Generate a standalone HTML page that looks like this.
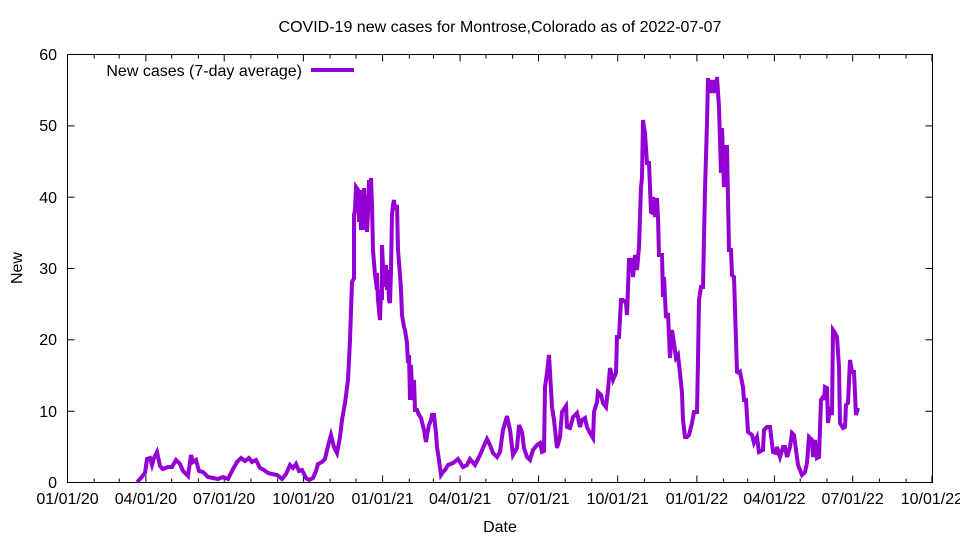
<!DOCTYPE html>
<html><head><meta charset="utf-8"><style>
html,body{margin:0;padding:0;background:#fff;}
svg{display:block;font-family:"Liberation Sans",sans-serif;}
</style></head><body>
<svg id="s" width="960" height="540" viewBox="0 0 960 540" xmlns="http://www.w3.org/2000/svg">
<rect width="960" height="540" fill="#fff"/>
<text x="500" y="32" font-size="16" text-anchor="middle">COVID-19 new cases for Montrose,Colorado as of 2022-07-07</text>
<g font-size="16" text-anchor="end">
<text x="57" y="488">0</text><text x="57" y="417">10</text><text x="57" y="345">20</text>
<text x="57" y="274">30</text><text x="57" y="203">40</text><text x="57" y="131">50</text><text x="57" y="60">60</text>
</g>
<text x="22" y="268" font-size="16" text-anchor="middle" transform="rotate(-90 22 268)">New</text>
<text x="500" y="532" font-size="16" text-anchor="middle">Date</text>
<g id="ticks" stroke="#000" stroke-width="1"></g>
<g id="xl" font-size="16" text-anchor="middle"></g>
<rect x="67.5" y="54.5" width="865" height="428" fill="none" stroke="#000" stroke-width="1"/>
<text x="302" y="76" font-size="16" text-anchor="end">New cases (7-day average)</text>
<line x1="311" y1="70" x2="354" y2="70" stroke="#9400D3" stroke-width="4"/>
<polyline fill="none" stroke="#9400D3" stroke-width="4" stroke-linejoin="miter" points="
137,482 140,479 145,473 147,459 150,458 152,465 154,458 157,452 160,466 163,469 168,467 172,467 176,460 180,464 183,471 188,476 191,455 193,462 196,460 199,471 203,472 208,477 213,478 218,479 223,477 228,479 233,469 237,462 241,458 245,461 249,458 252,462 256,460 260,468 264,470 268,473 272,474 277,475 282,479 286,474 290,465 293,468 296,464 299,471 302,470 306,478 309,480 313,478 316,471 318,464 322,462 325,459 328,446 331,435 334,447 337,453 340,437 342,420
345,403 348,380 350,340 352,282 354,278 354,215 355,210 356,187 358,190 359,222 360,190 361,230 362,200 363,228 364,188 365,230 366,195 367,232 368,212 369,180 370,200 371,178 372,205 373,250 375,275 376,282 377,290 377,273 378,300 379,310 380,320 381,290 382,300 382,245 384,287 386,265 387,290 388,270 389,300 390,303 391,270 392,215 393,205 394,200 395,210 397,205 398,250 400,275 401,290 402,315 404,327 405,330 407,343 408,363 409,355 410,400 411,365 412,390 413,400 414,380 415,410 417,410 419,415 421,418 424,430 426,442 427,435 429,425 431,420 432,415 434,415 436,433 437,447 439,460 441,475 443,472
445,470 448,465 453,463 458,459 463,467 467,465 470,459 475,465 480,455 483,448 487,439 490,445 493,453 497,457 500,452 503,430 507,416 510,430 513,455 517,448 519,425 522,432 524,448 527,457 530,460 533,450 537,445 540,443 542,452 544,451 545,387 547,373 549,355 552,407 554,420 557,448 560,437 562,412 566,406 567,427 570,428 573,417 575,415 577,413 580,427 582,420 585,418 587,427 590,433 593,438 594,412 597,402 598,392 601,395 603,403 606,407 608,390 610,368 613,380 616,373 617,337 619,337 621,300 623,300 626,303 627,315 629,260 632,260 633,277 635,255 637,270 639,247 641,187 642,178 643,120 645,133 647,163 649,163 651,212 653,213 653,197 655,217 657,198 658,217 659,255 662,255 663,297 664,277 666,318 668,313 670,358 672,330 674,343 676,358 678,355 680,373 682,393 683,420 685,437 687,437 689,435 692,423 694,412 697,412 698,360 699,300 701,287 703,287 705,190 707,123 708,78 709,93 711,80 713,93 714,80 716,93 717,77 719,107 721,173 722,128 724,187 726,147 727,147 729,250 731,250 732,275 734,277 737,372 739,373 740,372
743,387 744,400 746,400 748,432 752,435 754,443 757,437 759,452 763,450 764,430 767,427 770,427 773,452 776,453 777,447 780,457 783,447 785,447 787,457 790,447 792,433 794,435 796,450 798,465 802,475 805,472 807,463 809,437 812,440 813,457 815,440 817,458 819,457 821,400 823,397 824,400 825,387 827,388 828,423 830,407 832,415 833,330 835,333 837,337 839,367 840,423 843,428 845,427 846,405 848,403 850,360 852,372 854,372 856,415 858,408"/>
</svg>
<script>
var ns="http://www.w3.org/2000/svg",t=document.getElementById("ticks"),xl=document.getElementById("xl");
function ln(x1,y1,x2,y2){var l=document.createElementNS(ns,"line");l.setAttribute("x1",x1);l.setAttribute("y1",y1);l.setAttribute("x2",x2);l.setAttribute("y2",y2);t.appendChild(l);}
var days=[0,31,60,91,121,152,182,213,244,274,305,335,366,397,425,456,486,517,547,578,609,639,670,700,731,762,790,821,851,882,912,943,974,1004];
var labs=["01/01/20","04/01/20","07/01/20","10/01/20","01/01/21","04/01/21","07/01/21","10/01/21","01/01/22","04/01/22","07/01/22","10/01/22"];
days.forEach(function(d,i){var x=(67.5+d*0.861).toFixed(1);var L=(i%3==0)?7:4;ln(x,482.5,x,482.5-L);ln(x,54.5,x,54.5+L);
if(i%3==0){var tx=document.createElementNS(ns,"text");tx.setAttribute("x",x);tx.setAttribute("y","504");tx.textContent=labs[i/3];xl.appendChild(tx);}});
for(var v=0;v<=60;v+=10){var y=(482.5-v*7.133).toFixed(1);ln(67.5,y,74.5,y);ln(932.5,y,925.5,y);}
</script>
</body></html>
